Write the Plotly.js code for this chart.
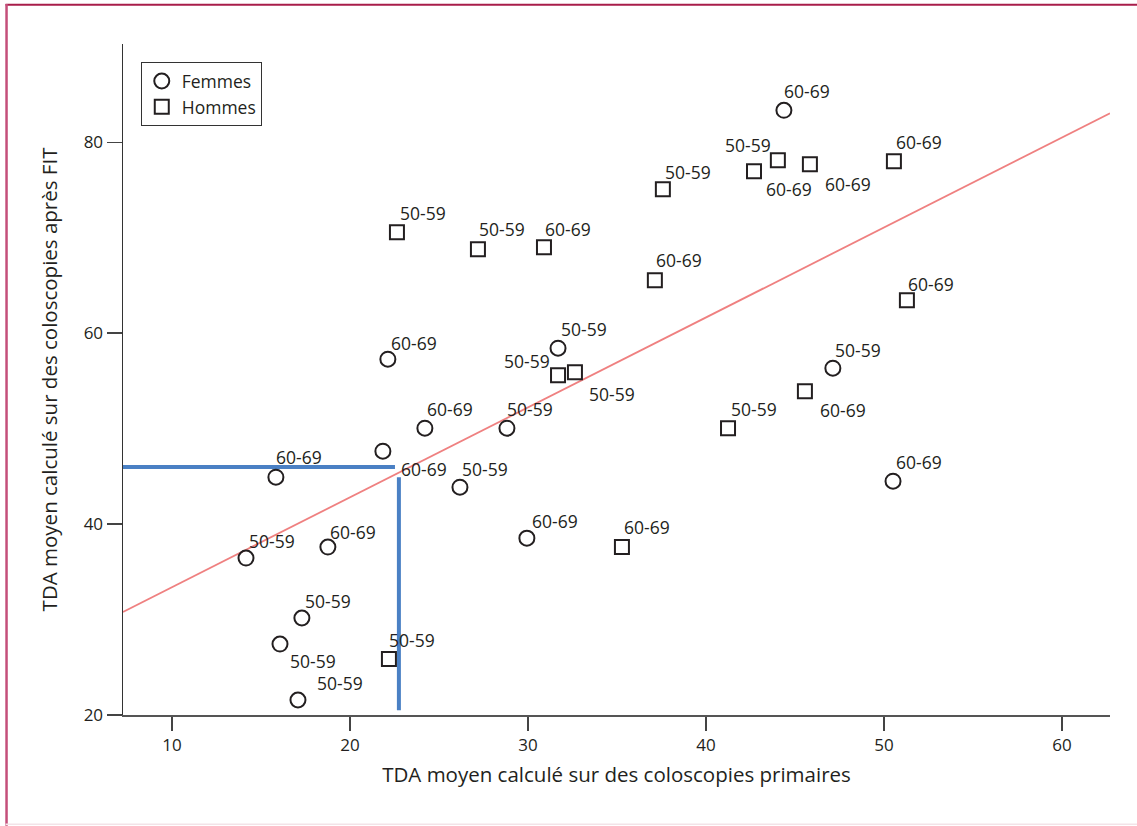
<!DOCTYPE html>
<html>
<head>
<meta charset="utf-8">
<script src="https://cdn.plot.ly/plotly-3.0.1.min.js"></script>
<style>
html,body{margin:0;padding:0;background:#fff;}
#chart{width:1137px;height:826px;}
</style>
</head>
<body>
<div id="chart"></div>
<script>
// ---- Data ----
const femmesX = [44.38, 31.69, 22.13, 47.13, 24.21, 28.82, 21.85, 15.84, 26.18, 50.51, 29.94, 18.76, 14.16, 17.30, 16.07, 17.08];
const femmesY = [83.35, 58.43, 57.28, 56.34, 50.05, 50.05, 47.64, 44.92, 43.87, 44.50, 38.53, 37.59, 36.44, 30.16, 27.43, 21.57];
const femmesAge = ["60-69","50-59","60-69","50-59","60-69","50-59","60-69","60-69","50-59","60-69","60-69","60-69","50-59","50-59","50-59","50-59"];

const hommesX = [22.64, 27.19, 30.90, 37.58, 42.70, 44.04, 45.84, 50.56, 37.13, 51.29, 31.69, 32.64, 45.56, 41.24, 35.28, 22.19];
const hommesY = [70.58, 68.80, 69.01, 75.08, 76.96, 78.12, 77.70, 78.01, 65.55, 63.46, 55.60, 55.92, 53.93, 50.05, 37.59, 25.86];
const hommesAge = ["50-59","50-59","60-69","50-59","50-59","60-69","60-69","60-69","60-69","60-69","50-59","50-59","60-69","50-59","60-69","50-59"];

const fitX = [7.25, 62.70];
const fitY = [30.79, 83.04];

const refHX = [7.25, 22.53];
const refHY = [45.97, 45.97];
const refVX = [22.75, 22.75];
const refVY = [44.9, 20.5];

const xTicks = [10, 20, 30, 40, 50, 60];
const yTicks = [20, 40, 60, 80];

// ---- Label offsets (style, pixels) ----
const femmesOff = [[23,-19],[26,-19],[26,-16],[25,-18],[25,-19],[23,-19],[41,18],[23,-20],[25,-18],[26,-19],[28,-17],[25,-15],[26,-17],[26,-17],[33,17],[42,-17]];
const hommesOff = [[26,-19],[24,-20],[24,-18],[25,-17],[-6,-26],[11,29],[38,20],[25,-19],[24,-20],[24,-16],[-31,-14],[37,22],[38,19],[26,-19],[25,-20],[23,-19]];

const FONT = "Open Sans, DejaVu Sans, sans-serif";
const INK = "#231f20";
const LBL = 17.5;

const traces = [
  {x: fitX, y: fitY, mode: "lines", line: {color: "#ef8080", width: 1.8}, showlegend: false, hoverinfo: "skip"},
  {x: refHX, y: refHY, mode: "lines", line: {color: "#4a80c4", width: 4}, showlegend: false, hoverinfo: "skip"},
  {x: refVX, y: refVY, mode: "lines", line: {color: "#4a80c4", width: 4}, showlegend: false, hoverinfo: "skip"},
  {x: femmesX, y: femmesY, mode: "markers", name: "Femmes",
   marker: {symbol: "circle-open", size: 15, color: INK, line: {width: 2, color: INK}}},
  {x: hommesX, y: hommesY, mode: "markers", name: "Hommes",
   marker: {symbol: "square-open", size: 14, color: INK, line: {width: 2, color: INK}}}
];

const annotations = [];
femmesX.forEach((v, i) => annotations.push({x: v, y: femmesY[i], xref: "x", yref: "y", text: femmesAge[i], showarrow: false,
  xshift: femmesOff[i][0], yshift: -femmesOff[i][1], font: {family: FONT, size: LBL, color: INK}}));
hommesX.forEach((v, i) => annotations.push({x: v, y: hommesY[i], xref: "x", yref: "y", text: hommesAge[i], showarrow: false,
  xshift: hommesOff[i][0], yshift: -hommesOff[i][1], font: {family: FONT, size: LBL, color: INK}}));

const layout = {
  width: 1137, height: 826,
  margin: {l: 123, r: 27, t: 44, b: 111},
  paper_bgcolor: "#fff", plot_bgcolor: "#fff",
  font: {family: FONT, size: 17, color: INK},
  showlegend: true,
  legend: {x: 0.018, y: 0.973, xanchor: "left", yanchor: "top", bordercolor: "#333", borderwidth: 1,
           bgcolor: "#fff", font: {family: FONT, size: 17.5, color: INK}, tracegroupgap: 0, itemwidth: 30},
  xaxis: {range: [7.25, 62.70], tickvals: xTicks, ticktext: xTicks.map(String), ticks: "outside", ticklen: 14, tickwidth: 1.5,
          tickcolor: "#444", showline: true, linecolor: "#555", linewidth: 2, showgrid: false, zeroline: false,
          tickfont: {family: FONT, size: 17, color: INK},
          title: {text: "TDA moyen calculé sur des coloscopies primaires", font: {family: FONT, size: 20.5, color: INK}, standoff: 12}},
  yaxis: {range: [20, 90.3], tickvals: yTicks, ticktext: yTicks.map(String), ticks: "outside", ticklen: 15, tickwidth: 1.5,
          tickcolor: "#444", showline: true, linecolor: "#333", linewidth: 1.5, showgrid: false, zeroline: false,
          tickfont: {family: FONT, size: 17, color: INK},
          title: {text: "TDA moyen calculé sur des coloscopies après FIT", font: {family: FONT, size: 20.5, color: INK}, standoff: 20}},
  annotations: annotations,
  shapes: [
    {type: "line", xref: "paper", yref: "paper", x0: -0.119, x1: 1.03, y0: 1.0585, y1: 1.0585, line: {color: "#a81d4a", width: 2}},
    {type: "line", xref: "paper", yref: "paper", x0: -0.118, x1: -0.118, y0: 1.0595, y1: -0.165, line: {color: "#c44f7a", width: 2.5}},
    {type: "line", xref: "paper", yref: "paper", x0: -0.119, x1: 1.03, y0: -0.163, y1: -0.163, line: {color: "#f3e3e8", width: 1.5}}
  ]
};

Plotly.newPlot("chart", traces, layout, {displayModeBar: false, staticPlot: true});
</script>
</body>
</html>
